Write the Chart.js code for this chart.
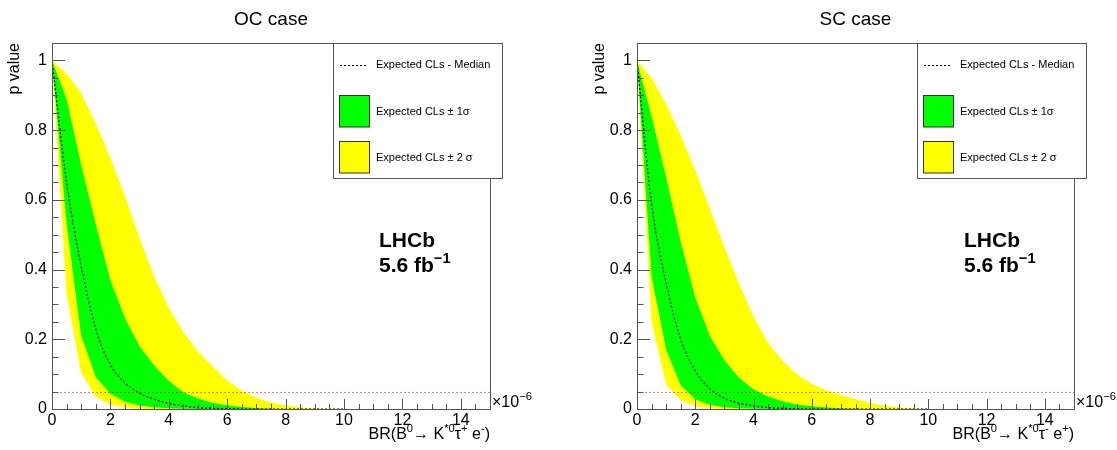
<!DOCTYPE html>
<html lang="en">
<head>
    <meta charset="UTF-8">
    <title>CLs scan</title>
    <style>
        body { margin: 0; background: #fff; }
        .panel { position: absolute; top: 0; }
        #ocPanel { left: 0; }
        #scPanel { left: 558px; }
    </style>
</head>
<body>
    <canvas id="ocPanel" class="panel" width="558" height="450"></canvas>
    <canvas id="scPanel" class="panel" width="559" height="450"></canvas>

    <script src="https://cdn.jsdelivr.net/npm/chart.js"></script>
    <script>
        // branching fraction scan points (units of 1e-6)
        const brX = [0, 0.5, 1, 1.5, 2, 2.5, 3, 3.5, 4, 4.5, 5, 5.5, 6, 6.5, 7, 7.5, 8, 8.5, 9, 9.5, 10];

        // OC case
        const ocMedian      = [1, 0.65, 0.41, 0.23, 0.127, 0.075, 0.045, 0.028, 0.016, 0.009, 0.004, 0.002, 0.001, 0, 0, 0, 0, 0, 0, 0, 0];
        const ocGreenHigh   = [1, 0.89, 0.70, 0.53, 0.37, 0.26, 0.18, 0.125, 0.08, 0.048, 0.03, 0.018, 0.011, 0.006, 0.003, 0.001, 0, 0, 0, 0, 0];
        const ocGreenLow    = [1, 0.53, 0.21, 0.092, 0.044, 0.021, 0.01, 0.005, 0.002, 0.001, 0, 0, 0, 0, 0, 0, 0, 0, 0, 0, 0];
        const ocYellowHigh  = [1, 0.963, 0.906, 0.82, 0.72, 0.61, 0.49, 0.38, 0.29, 0.22, 0.165, 0.123, 0.082, 0.052, 0.032, 0.019, 0.01, 0.005, 0.0025, 0.001, 0];
        const ocYellowLow   = [1, 0.33, 0.103, 0.035, 0.012, 0.004, 0.001, 0, 0, 0, 0, 0, 0, 0, 0, 0, 0, 0, 0, 0, 0];

        // SC case
        const scMedian      = [1, 0.59, 0.36, 0.2, 0.11, 0.058, 0.031, 0.017, 0.009, 0.004, 0.002, 0.001, 0, 0, 0, 0, 0, 0, 0, 0, 0];
        const scGreenHigh   = [1, 0.84, 0.665, 0.48, 0.32, 0.21, 0.14, 0.09, 0.057, 0.036, 0.022, 0.013, 0.008, 0.004, 0.002, 0.001, 0, 0, 0, 0, 0];
        const scGreenLow    = [1, 0.38, 0.17, 0.068, 0.028, 0.012, 0.005, 0.002, 0.001, 0, 0, 0, 0, 0, 0, 0, 0, 0, 0, 0, 0];
        const scYellowHigh  = [1, 0.95, 0.875, 0.785, 0.685, 0.575, 0.465, 0.36, 0.265, 0.19, 0.138, 0.1, 0.072, 0.053, 0.04, 0.028, 0.018, 0.01, 0.005, 0.002, 0];
        const scYellowLow   = [1, 0.25, 0.07, 0.026, 0.008, 0.002, 0, 0, 0, 0, 0, 0, 0, 0, 0, 0, 0, 0, 0, 0, 0];

        const clsThreshold = 0.05;
        const xRange = [0, 15];
        const yRange = [0, 1.05];
        const xTickValues = [0, 2, 4, 6, 8, 10, 12, 14];
        const yTickValues = [0, 0.2, 0.4, 0.6, 0.8, 1];

        const FONT = '"Liberation Sans", Arial, Helvetica, sans-serif';
        const YELLOW = '#ffff00';
        const GREEN = '#00ff00';

        function pts(ys) {
            return brX.map((x, i) => ({ x: x, y: ys[i] }));
        }

        // draws text with ROOT-like superscripts, parts = [[text, 'sup'?], ...]
        function drawRich(ctx, parts, x, y, size, weight, align) {
            const widths = parts.map(p => {
                const s = p[1] === 'sup' ? size * 0.7 : size;
                ctx.font = weight + ' ' + s + 'px ' + FONT;
                return ctx.measureText(p[0]).width;
            });
            const total = widths.reduce((a, b) => a + b, 0);
            let cx = align === 'right' ? x - total : x;
            ctx.textAlign = 'left';
            ctx.textBaseline = 'alphabetic';
            parts.forEach((p, i) => {
                const sup = p[1] === 'sup';
                ctx.font = weight + ' ' + (sup ? size * 0.7 : size) + 'px ' + FONT;
                ctx.fillText(p[0], cx, sup ? y - size * 0.45 : y);
                cx += widths[i];
            });
        }

        const rootStyle = {
            id: 'rootStyle',
            afterDatasetsDraw(chart) {
                const ctx = chart.ctx;
                const a = chart.chartArea;
                const xs = chart.scales.x, ys = chart.scales.y;
                ctx.save();
                // 95% CL line
                const yc = Math.round(ys.getPixelForValue(clsThreshold)) + 0.5;
                ctx.strokeStyle = '#ff0000';
                ctx.globalAlpha = 0.55;
                ctx.setLineDash([2, 2]);
                ctx.beginPath();
                ctx.moveTo(xs.getPixelForValue(xRange[0]), yc);
                ctx.lineTo(xs.getPixelForValue(xRange[1]), yc);
                ctx.stroke();
                ctx.setLineDash([]);
                ctx.globalAlpha = 1;

                ctx.strokeStyle = '#555';
                ctx.lineWidth = 1;
                // frame
                ctx.strokeRect(Math.round(a.left) + 0.5, Math.round(a.top) + 0.5,
                    Math.round(a.right - a.left), Math.round(a.bottom - a.top));
                // inner ticks
                ctx.beginPath();
                for (let i = 0; i <= 30; i++) {
                    const v = i * 0.5;
                    const px = Math.round(xs.getPixelForValue(v)) + 0.5;
                    const len = (i % 4 === 0) ? 10 : 5;
                    ctx.moveTo(px, a.bottom);
                    ctx.lineTo(px, a.bottom - len);
                }
                for (let i = 0; i <= 21; i++) {
                    const v = i * 0.05;
                    const py = Math.round(ys.getPixelForValue(v)) + 0.5;
                    const len = (i % 4 === 0) ? 13 : 6.5;
                    ctx.moveTo(a.left, py);
                    ctx.lineTo(a.left + len, py);
                }
                ctx.stroke();
                ctx.restore();
            },
            afterDraw(chart) {
                const ctx = chart.ctx;
                const a = chart.chartArea;
                const o = chart.options.plugins.rootStyle;
                ctx.save();
                ctx.fillStyle = '#000';

                // title
                ctx.font = '19px ' + FONT;
                ctx.textAlign = 'center';
                ctx.fillText(o.title, (a.left + a.right) / 2, 25);

                // y axis title
                ctx.save();
                ctx.translate(a.left - 33, a.top);
                ctx.rotate(-Math.PI / 2);
                ctx.font = '16px ' + FONT;
                ctx.textAlign = 'right';
                ctx.textBaseline = 'alphabetic';
                ctx.fillText('p value', 0, 0);
                ctx.restore();

                // x axis title and exponent
                drawRich(ctx, o.xTitle, a.right, 439, 16, 'normal', 'right');
                drawRich(ctx, [['\u00d710'], ['\u22126', 'sup']], a.right + 2, 407, 16, 'normal', 'left');

                // LHCb label
                drawRich(ctx, [['LHCb']], a.left + 327, a.top + 204, 21, 'bold', 'left');
                drawRich(ctx, [['5.6 fb'], ['\u22121', 'sup']], a.left + 327, a.top + 229, 21, 'bold', 'left');

                // legend
                const lx = a.right - 157, ly = a.top;
                const lw = 169, lh = 135;
                ctx.fillStyle = '#fff';
                ctx.fillRect(lx, ly, lw, lh);
                ctx.strokeStyle = '#555';
                ctx.lineWidth = 1;
                ctx.strokeRect(Math.round(lx) + 0.5, Math.round(ly) + 0.5, lw, lh);

                ctx.strokeStyle = '#000';
                ctx.setLineDash([2, 2]);
                ctx.beginPath();
                ctx.moveTo(lx + 7, ly + 22.5);
                ctx.lineTo(lx + 35, ly + 22.5);
                ctx.stroke();
                ctx.setLineDash([]);

                ctx.strokeStyle = '#333';
                ctx.fillStyle = GREEN;
                ctx.fillRect(lx + 6.5, ly + 52.5, 30, 31.5);
                ctx.strokeRect(lx + 6.5, ly + 52.5, 30, 31.5);
                ctx.fillStyle = YELLOW;
                ctx.fillRect(lx + 6.5, ly + 98.5, 30, 31.5);
                ctx.strokeRect(lx + 6.5, ly + 98.5, 30, 31.5);

                ctx.fillStyle = '#000';
                ctx.font = '11px ' + FONT;
                ctx.textAlign = 'left';
                ctx.textBaseline = 'middle';
                ctx.fillText('Expected CLs - Median', lx + 43, ly + 22);
                ctx.fillText('Expected CLs \u00b1 1\u03c3', lx + 43, ly + 68.5);
                ctx.fillText('Expected CLs \u00b1 2 \u03c3', lx + 43, ly + 114.5);
                ctx.restore();
            }
        };

        function makePanel(id, title, xTitle, median, gHigh, gLow, yHigh, yLow, padLeft, padRight) {
            return new Chart(document.getElementById(id), {
                type: 'line',
                data: {
                    datasets: [
                        { data: pts(yHigh), fill: 1, backgroundColor: YELLOW, borderWidth: 0, borderColor: 'rgba(0,0,0,0)', order: 3 },
                        { data: pts(yLow), fill: false, borderWidth: 0, borderColor: 'rgba(0,0,0,0)', order: 3 },
                        { data: pts(gHigh), fill: 3, backgroundColor: GREEN, borderWidth: 0, borderColor: 'rgba(0,0,0,0)', order: 2 },
                        { data: pts(gLow), fill: false, borderWidth: 0, borderColor: 'rgba(0,0,0,0)', order: 2 },
                        { data: pts(median), fill: false, borderColor: '#000', borderWidth: 1.2, borderDash: [2, 2],
                          cubicInterpolationMode: 'monotone', order: 1 }
                    ]
                },
                options: {
                    responsive: false,
                    animation: false,
                    layout: { padding: { left: padLeft, right: padRight, top: 43, bottom: 0 } },
                    elements: { point: { radius: 0 }, line: { tension: 0 } },
                    plugins: {
                        legend: { display: false },
                        tooltip: { enabled: false },
                        rootStyle: { title: title, xTitle: xTitle }
                    },
                    scales: {
                        x: {
                            type: 'linear', min: xRange[0], max: xRange[1],
                            afterBuildTicks: s => { s.ticks = xTickValues.map(v => ({ value: v })); },
                            afterFit: s => { s.height = 41; },
                            grid: { display: false, drawTicks: false },
                            border: { display: false },
                            ticks: { color: '#000', padding: 2, maxRotation: 0, font: { family: FONT, size: 16 } }
                        },
                        y: {
                            min: yRange[0], max: yRange[1],
                            afterBuildTicks: s => { s.ticks = yTickValues.map(v => ({ value: v })); },
                            afterFit: s => { s.width = 40; },
                            grid: { display: false, drawTicks: false },
                            border: { display: false },
                            ticks: { color: '#000', padding: 5, font: { family: FONT, size: 16 },
                                     callback: v => String(Math.round(v * 10) / 10) }
                        }
                    }
                },
                plugins: [rootStyle]
            });
        }

        makePanel('ocPanel', 'OC case',
            [['BR(B'], ['0', 'sup'], ['\u2192 K'], ['*0', 'sup'], ['\u03c4'], ['+', 'sup'], [' e'], ['-', 'sup'], [')']],
            ocMedian, ocGreenHigh, ocGreenLow, ocYellowHigh, ocYellowLow, 12, 68);

        makePanel('scPanel', 'SC case',
            [['BR(B'], ['0', 'sup'], ['\u2192 K'], ['*0', 'sup'], ['\u03c4'], ['-', 'sup'], [' e'], ['+', 'sup'], [')']],
            scMedian, scGreenHigh, scGreenLow, scYellowHigh, scYellowLow, 39, 43);
    </script>
</body>
</html>
